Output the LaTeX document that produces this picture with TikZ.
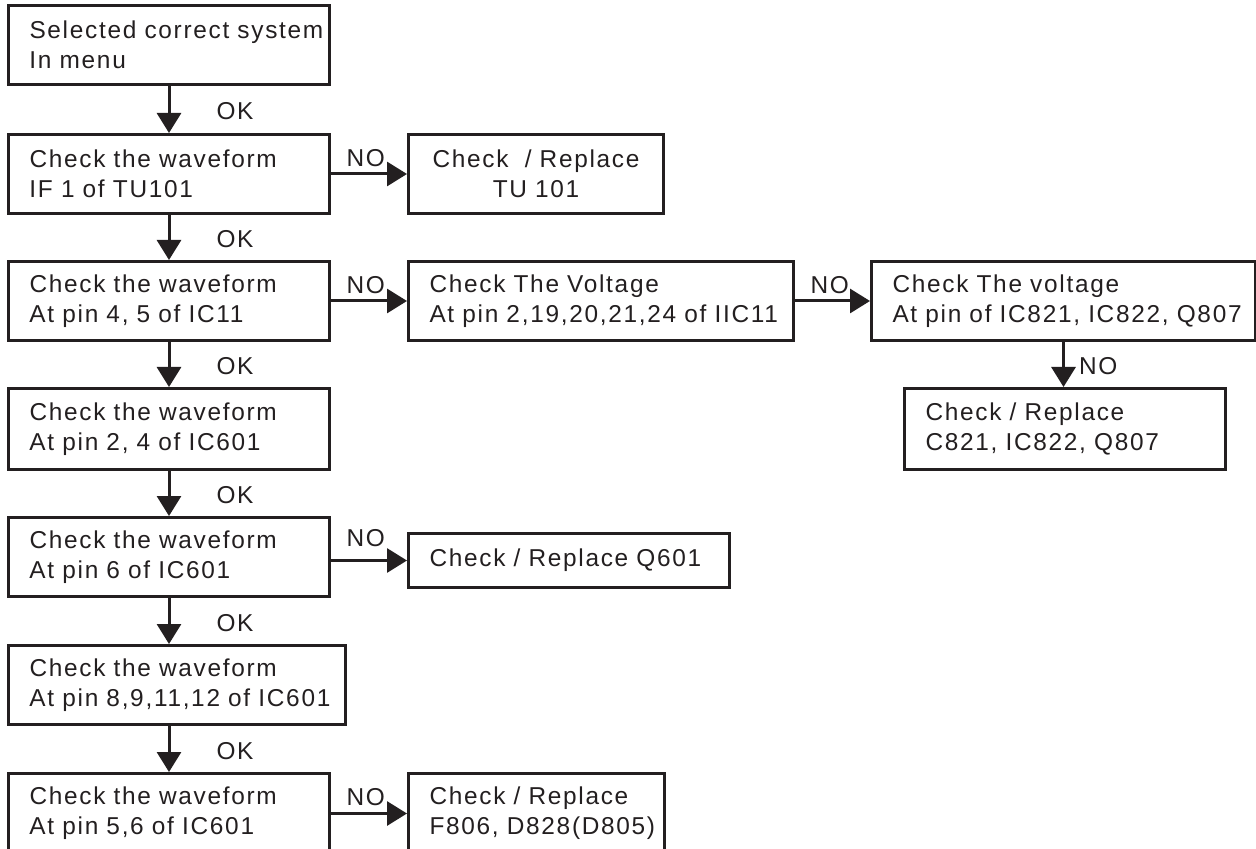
\documentclass[tikz,border=0pt]{standalone}
\usepackage{fontspec}
\setmainfont{Liberation Sans}[LetterSpace=7]
\usetikzlibrary{arrows.meta}
\definecolor{ink}{RGB}{35,31,32}

\begin{document}
\begin{tikzpicture}[x=0.5pt, y=-0.5pt,
    every node/.style={font=\fontsize{12.2}{15}\selectfont, text=ink},
    box/.style={draw=ink, line width=1.5pt, anchor=north west, minimum height=39.5pt,
      inner xsep=1pt, inner ysep=0pt, align=left, text width=#1-2pt,
      execute at begin node={\leftskip=9.5pt\rightskip=-20pt plus 1fil}},
    cbox/.style={draw=ink, line width=1.5pt, anchor=north west, minimum height=39.5pt,
      inner xsep=1pt, inner ysep=0pt, align=center, text width=#1-2pt},
    arr/.style={draw=ink, line width=1.5pt, -{Triangle[length=10pt, width=12pt]}},
    ok/.style={midway, anchor=west, inner sep=0pt, xshift=23pt, yshift=-1pt},
    no/.style={pos=0, anchor=south west, inner sep=0pt, xshift=7pt, yshift=3pt}]

    % page
    \useasboundingbox (0,0) rectangle (1256,849);
    \fill[white] (0,0) rectangle (1256,849);
    \clip (0,0) rectangle (1256,849);

    % main column
    \node[box=160.5pt] (sel) at (7,4) {Selected correct system\\In menu};
    \node[box=160.5pt] (if) at (7,133) {Check the waveform\\IF 1 of TU101};
    \node[box=160.5pt] (pin45) at (7,260) {Check the waveform\\At pin 4, 5 of IC11};
    \node[box=160.5pt, minimum height=40.5pt] (pin24) at (7,387) {Check the waveform\\At pin 2, 4 of IC601};
    \node[box=160.5pt] (pin6) at (7,516) {Check the waveform\\At pin 6 of IC601};
    \node[box=168.5pt] (pin8) at (7,644) {Check the waveform\\At pin 8,9,11,12 of IC601};
    \node[box=160.5pt, minimum height=40pt] (pin56) at (7,772) {Check the waveform\\At pin 5,6 of IC601};

    % side branches
    \node[cbox=127.5pt] (tu) at (407,133) {Check\ \ / Replace\\TU 101};
    \node[box=192.5pt] (volt) at (407,260) {Check The Voltage\\At pin 2,19,20,21,24 of IIC11};
    \node[box=192pt] (volt2) at (870,260) {Check The voltage\\At pin of IC821, IC822, Q807};
    \node[box=160.5pt, minimum height=40.5pt] (rep) at (903,387) {Check / Replace\\C821, IC822, Q807};
    \node[box=160.5pt, minimum height=27pt] (q601) at (407,532) {Check / Replace Q601};
    \node[box=128pt, minimum height=40pt] (f806) at (407,772) {Check / Replace\\F806, D828(D805)};

    % OK arrows
    \draw[arr] (sel) -- node[ok] {OK} (if);
    \draw[arr] (if) -- node[ok] {OK} (pin45);
    \draw[arr] (pin45) -- node[ok] {OK} (pin24);
    \draw[arr] (pin24) -- node[ok] {OK} (pin6);
    \draw[arr] (pin6.south) -- node[ok] {OK} (pin6.south |- pin8.north);
    \draw[arr] (pin8.south -| pin56.north) -- node[ok] {OK} (pin56.north);

    % NO arrows
    \draw[arr] (if.east) -- node[no] {NO} (tu.west);
    \draw[arr] (pin45.east) -- node[no] {NO} (volt.west);
    \draw[arr] (volt.east) -- node[no] {NO} (volt2.west);
    \draw[arr] (volt2.south) -- node[midway, anchor=west, inner sep=0pt, xshift=7pt, yshift=-1pt] {NO} (volt2.south |- rep.north);
    \draw[arr] (pin6.east |- q601.west) -- node[no, yshift=3pt] {NO} (q601.west);
    \draw[arr] (pin56.east) -- node[no] {NO} (f806.west);
\end{tikzpicture}
\end{document}
